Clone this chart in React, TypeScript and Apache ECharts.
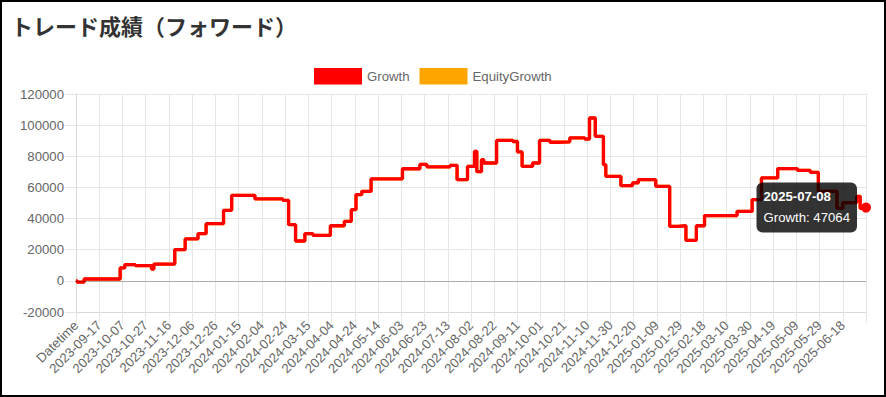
import React, { useEffect, useRef } from "react";
import * as echarts from "echarts";

const chartTitle = "トレード成績（フォワード）";
const seriesNames = ["Growth", "EquityGrowth"];

// x tick labels, one per 20 categories (category 0 is "Datetime")
const tickLabels = [
  "Datetime", "2023-09-17", "2023-10-07", "2023-10-27", "2023-11-16", "2023-12-06",
  "2023-12-26", "2024-01-15", "2024-02-04", "2024-02-24", "2024-03-15", "2024-04-04",
  "2024-04-24", "2024-05-14", "2024-06-03", "2024-06-23", "2024-07-13", "2024-08-02",
  "2024-08-22", "2024-09-11", "2024-10-01", "2024-10-21", "2024-11-10", "2024-11-30",
  "2024-12-20", "2025-01-09", "2025-01-29", "2025-02-18", "2025-03-10", "2025-03-30",
  "2025-04-19", "2025-05-09", "2025-05-29", "2025-06-18",
];

// category index (days) where the Growth value changes, and the new value
const growthDayIndex = [
  0, 1, 7, 38, 42, 51, 65, 67, 85, 94,
  105, 112, 127, 134, 154, 178, 183, 189, 197, 204,
  219, 231, 237, 241, 246, 254, 281, 296, 302, 322,
  328, 337, 343, 345, 349, 351, 362, 376, 380, 384,
  393, 399, 408, 415, 425, 438, 442, 447, 454, 456,
  469, 479, 484, 499, 511, 518, 525, 534, 541, 569,
  582, 590, 604, 621, 632, 639, 655, 660, 672, 675,
  680,
];
const growthValue = [
  0, -800, 1200, 8300, 10400, 9800, 7600, 10800, 20000, 26900,
  30300, 36700, 45300, 54900, 52600, 51700, 36100, 25600, 30300, 29200,
  35400, 38200, 45700, 55400, 57500, 65500, 72000, 74800, 73200, 74200,
  65000, 73500, 83200, 70100, 77800, 75700, 90200, 89500, 82800, 73500,
  75700, 90200, 89000, 89300, 91800, 91100, 104600, 92800, 74600, 67100,
  61100, 62900, 65000, 60700, 35000, 35400, 26000, 35400, 41900, 44600,
  52200, 66100, 72100, 71000, 69700, 57500, 46500, 50300, 54300, 46500,
  47064,
];
// EquityGrowth coincides with Growth (hidden beneath it)
const equityDayIndex = growthDayIndex;
const equityValue = growthValue;

const hoverDate = "2025-07-08";
const yMin = -20000;
const yMax = 120000;
const yStep = 20000;
const xMin = 0;
const xMax = 680;
const xStep = 20;

const FONT = "'Liberation Sans', Arial, Helvetica, sans-serif";
const FS = 13.2;

export default function App() {
  const ref = useRef<HTMLDivElement>(null);
  useEffect(() => {
    if (!ref.current) return;
    const chart = echarts.init(ref.current, null, { renderer: "svg" });
    const growth = growthDayIndex.map((d, i) => [d, growthValue[i]]);
    const equity = equityDayIndex.map((d, i) => [d, equityValue[i]]);
    const last = growth[growth.length - 1];
    chart.setOption({
      animation: false,
      backgroundColor: "#fff",
      title: {
        text: chartTitle,
        left: 6,
        top: 9,
        textStyle: {
          fontSize: 22,
          fontWeight: "bold",
          color: "#333",
          fontFamily: "'Noto Sans CJK JP', sans-serif",
        },
      },
      legend: {
        data: seriesNames,
        left: 309,
        top: 63,
        icon: "rect",
        itemWidth: 48,
        itemHeight: 16.5,
        itemGap: 10,
        textStyle: { color: "#666", fontSize: FS, fontFamily: FONT },
      },
      grid: { left: 76, right: 20, top: 94, bottom: 85, containLabel: false },
      xAxis: {
        type: "value",
        min: xMin,
        max: xMax,
        interval: xStep,
        axisLine: { show: true, onZero: false, lineStyle: { color: "#d9d9d9" } },
        axisTick: { show: true, length: 11, lineStyle: { color: "#e5e5e5" } },
        axisLabel: {
          rotate: 45,
          margin: 11,
          color: "#666",
          fontSize: FS,
          fontFamily: FONT,
          formatter: (v: number) => tickLabels[Math.round(v / xStep)] ?? "",
        },
        splitLine: { show: true, lineStyle: { color: "#e6e6e6" } },
      },
      yAxis: {
        type: "value",
        min: yMin,
        max: yMax,
        interval: yStep,
        axisLine: { show: true, lineStyle: { color: "#d9d9d9" } },
        axisTick: { show: true, length: 11, lineStyle: { color: "#e5e5e5" } },
        axisLabel: {
          margin: 12,
          color: "#666",
          fontSize: FS,
          fontFamily: FONT,
          formatter: (v: number) => String(v),
        },
        splitLine: { show: true, lineStyle: { color: "#e6e6e6" } },
      },
      series: [
        {
          name: seriesNames[1],
          type: "line",
          step: "end",
          data: equity,
          showSymbol: false,
          color: "#ffa500",
          lineStyle: { width: 3.3, color: "#ffa500" },
          z: 1,
          markLine: {
            silent: true,
            symbol: "none",
            label: { show: false },
            lineStyle: { color: "rgba(0,0,0,0.25)", width: 1, type: "solid" },
            data: [{ yAxis: 0 }],
          },
        },
        {
          name: seriesNames[0],
          type: "line",
          step: "end",
          data: growth,
          showSymbol: false,
          color: "#ff0000",
          lineStyle: { width: 3.3, color: "#ff0000" },
          z: 2,
        },
        {
          name: "hover",
          type: "scatter",
          data: [last],
          symbol: "circle",
          symbolSize: 10,
          itemStyle: { color: "#ff0000", opacity: 1 },
          z: 5,
          label: {
            show: true,
            position: "left",
            distance: 4,
            opacity: 1,
            formatter: `{t|${hoverDate}}\n{b|${seriesNames[0]}: ${last[1]}}`,
            backgroundColor: "rgba(0,0,0,0.8)",
            borderRadius: 6,
            padding: [3, 7, 5, 7],
            rich: {
              t: { color: "#fff", fontWeight: "bold", fontSize: FS, lineHeight: 21, fontFamily: FONT, align: "left" },
              b: { color: "#fff", fontSize: FS, lineHeight: 21, fontFamily: FONT, align: "left" },
            },
          },
        },
      ],
    });
    return () => chart.dispose();
  }, []);
  return (
    <div style={{ position: "fixed", left: 0, top: 0, width: 886, height: 397, background: "#fff" }}>
      <div ref={ref} style={{ width: 886, height: 397 }} />
      <div
        style={{
          position: "absolute",
          left: 0,
          top: 0,
          width: 886,
          height: 397,
          border: "2px solid #000",
          boxSizing: "border-box",
          pointerEvents: "none",
        }}
      />
    </div>
  );
}
